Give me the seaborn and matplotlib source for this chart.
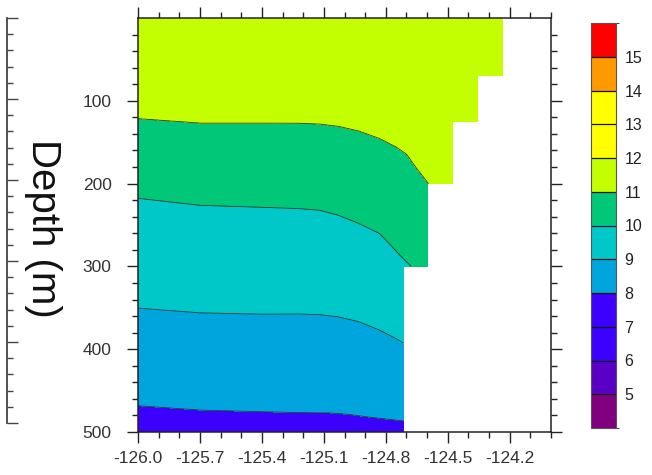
import numpy as np
import matplotlib
matplotlib.use("Agg")
import matplotlib.pyplot as plt
import seaborn as sns
from matplotlib.colors import ListedColormap, BoundaryNorm
from matplotlib.ticker import MultipleLocator, FixedLocator
from matplotlib.cm import ScalarMappable

# ---------------- data ----------------
levels = [4, 5, 6, 7, 8, 9, 10, 11, 12, 13, 14, 15, 16]
level_colors = ["#800080", "#5A00C4", "#3C00FF", "#3C00FF", "#00A5DE",
                "#00C8C8", "#00C878", "#C3FF00", "#FFFF00", "#FFFF00",
                "#FF9900", "#FF0000"]
cbar_ticks = [5, 6, 7, 8, 9, 10, 11, 12, 13, 14, 15]

# isotherm depths (m) along longitude
iso11_lon = [-126.0, -125.70, -125.40, -125.22, -125.12, -125.03, -124.93,
             -124.83, -124.75, -124.70, -124.656, -124.60, -124.40]
iso11_dep = [121.6, 127.0, 127.0, 127.2, 128.2, 130.9, 136.6,
             145.7, 155.9, 164.5, 180.0, 198.0, 260.0]
iso10_lon = [-126.0, -125.70, -125.40, -125.22, -125.12, -125.03, -124.93,
             -124.83, -124.784, -124.736, -124.68, -124.50]
iso10_dep = [217.7, 226.2, 228.6, 230.2, 232.2, 238.2, 248.2,
             260.3, 272.4, 285.3, 299.4, 360.0]
iso9_lon = [-126.0, -125.70, -125.40, -125.22, -125.12, -125.03, -124.93,
            -124.83, -124.752, -124.712, -124.50]
iso9_dep = [350.4, 356.1, 357.7, 357.5, 358.3, 360.9, 366.9,
            377.0, 387.0, 393.0, 430.0]
iso8_lon = [-126.0, -125.70, -125.40, -125.22, -125.07, -124.977, -124.881,
            -124.784, -124.712, -124.50]
iso8_dep = [468.3, 473.5, 475.5, 476.5, 477.0, 478.8, 482.0,
            484.7, 486.7, 505.0]
surface_temp = 11.6
deep_temp = 7.2

# bathymetry (bottom depth of valid data between longitude edges)
bath_lon_edges = [-126.0, -124.713, -124.596, -124.476, -124.355, -124.234, -124.0]
bath_depth = [500, 300, 200, 125, 70, 0]

xticks = [-126.0, -125.7, -125.4, -125.1, -124.8, -124.5, -124.2]
xticklabels = ["-126.0", "-125.7", "-125.4", "-125.1", "-124.8", "-124.5", "-124.2"]
yticks = [100, 200, 300, 400, 500]

# ---------------- build field ----------------
lon = np.linspace(-126.0, -124.0, 801)
dep = np.linspace(0.0, 500.0, 1001)
T = np.empty((dep.size, lon.size))
for j, x in enumerate(lon):
    d11 = np.interp(x, iso11_lon, iso11_dep)
    d10 = np.interp(x, iso10_lon, iso10_dep)
    d9 = np.interp(x, iso9_lon, iso9_dep)
    d8 = np.interp(x, iso8_lon, iso8_dep)
    T[:, j] = np.interp(dep, [0.0, d11, d10, d9, d8, 600.0],
                        [surface_temp, 11, 10, 9, 8, deep_temp])
idx = np.clip(np.searchsorted(bath_lon_edges, lon, side="right") - 1, 0, len(bath_depth) - 1)
bottom = np.array(bath_depth)[idx]
mask = dep[:, None] > bottom[None, :]
Tm = np.ma.masked_array(T, mask=mask)

# ---------------- style ----------------
sns.set_style("ticks")
plt.rcParams["font.family"] = ["Liberation Sans", "DejaVu Sans"]
cmap = ListedColormap(sns.color_palette(level_colors))
norm = BoundaryNorm(levels, cmap.N)

fig = plt.figure(figsize=(6.52, 4.75), dpi=100)
ax = fig.add_axes([138 / 652, 1 - 432 / 475, 413 / 652, 414 / 475])

ax.contourf(lon, dep, Tm, levels=levels, cmap=cmap, norm=norm)
ax.contour(lon, dep, Tm, levels=levels, colors="#333333", linewidths=0.6)

ax.set_xlim(-126.0, -124.0)
ax.set_ylim(500, 0)
ax.set_xticks(xticks)
ax.set_xticklabels(xticklabels)
ax.set_yticks(yticks)
ax.xaxis.set_minor_locator(MultipleLocator(0.1))
ax.yaxis.set_minor_locator(FixedLocator([v for v in range(20, 500, 20) if v % 100 != 0]))
ax.tick_params(which="both", direction="out", top=True, right=True,
               labeltop=False, labelright=False, width=1.0, color="#222222")
ax.tick_params(which="major", length=8)
ax.tick_params(which="minor", length=4.3)
ax.tick_params(axis="x", which="major", labelsize=12.5, pad=6, labelcolor="#333333")
ax.tick_params(axis="y", which="major", labelsize=12.5, pad=11, labelcolor="#333333")
for s in ax.spines.values():
    s.set_linewidth(1.1)
    s.set_color("#222222")

fig.text(43 / 652, 1 - 228 / 475, "Depth (m)", rotation=-90, fontsize=29,
         ha="center", va="center", color="#111111")

# neighbouring-panel axis fragment at far left
ax0 = fig.add_axes([0.0, 1 - 423 / 475, 7 / 652, 405 / 475])
ax0.set_facecolor("none")
for k in ["left", "top", "bottom"]:
    ax0.spines[k].set_visible(False)
ax0.spines["right"].set_linewidth(1.3)
ax0.spines["right"].set_color("#444444")
ax0.set_xticks([])
ax0.set_ylim(500, 0)
ax0.yaxis.tick_right()
ax0.yaxis.set_major_locator(MultipleLocator(100))
ax0.yaxis.set_minor_locator(MultipleLocator(20))
ax0.tick_params(which="both", direction="out", labelright=False, labelleft=False,
                color="#444444", width=1.0)
ax0.tick_params(which="major", length=8)
ax0.tick_params(which="minor", length=4)

# colour bar
cax = fig.add_axes([591 / 652, 1 - 428 / 475, 25 / 652, 405 / 475])
sm = ScalarMappable(norm=norm, cmap=cmap)
cb = fig.colorbar(sm, cax=cax, boundaries=levels, ticks=cbar_ticks,
                  drawedges=True, spacing="uniform")
cb.dividers.set_color("#111111")
cb.dividers.set_linewidth(0.9)
cb.outline.set_linewidth(0.8)
cb.outline.set_edgecolor("#555555")
cb.ax.tick_params(length=0, labelsize=11.5, pad=6, labelcolor="#222222")

fig.savefig("out.png", dpi=100)
